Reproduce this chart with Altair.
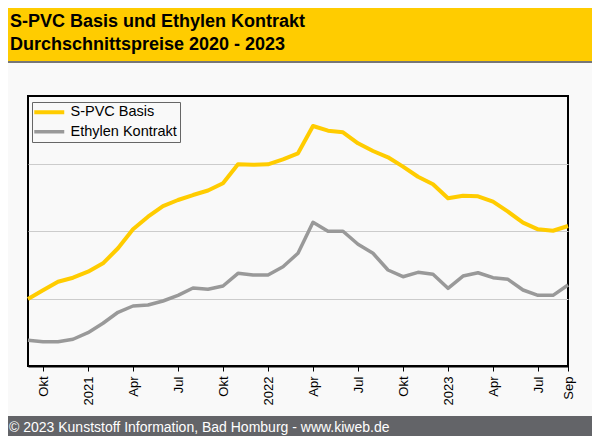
import altair as alt
import pandas as pd

# ---- data ----
months = [f"{y}-{m:02d}" for y in (2020, 2021, 2022, 2023) for m in range(1, 13)]
months = months[months.index("2020-09"): months.index("2023-09") + 1]

spvc = [99.3, 112.1, 124.9, 130.8, 139.7, 152.1, 174.4, 202.5, 221.2, 237.0,
        245.9, 253.3, 260.0, 270.7, 298.8, 298.2, 298.8, 306.2, 315.1, 355.6,
        348.6, 346.2, 329.9, 318.5, 309.2, 295.3, 280.4, 269.2, 248.4, 252.3,
        251.4, 243.4, 228.6, 212.3, 202.5, 200.4, 207.4]
ethylen = [38.1, 36.0, 36.0, 39.6, 49.3, 63.3, 79.6, 88.9, 90.4, 96.3,
           104.7, 115.6, 113.6, 118.5, 137.3, 134.8, 134.8, 147.1, 167.0, 212.9,
           199.6, 199.6, 180.3, 167.0, 142.2, 132.3, 138.8, 135.9, 115.1, 133.3,
           138.2, 130.8, 128.4, 112.6, 104.7, 104.7, 120.0]

series_names = ["S-PVC Basis", "Ethylen Kontrakt"]
series_colors = ["#FFCC00", "#999999"]

tick_months = ["2020-10", "2021-01", "2021-04", "2021-07", "2021-10", "2022-01",
               "2022-04", "2022-07", "2022-10", "2023-01", "2023-04", "2023-07", "2023-09"]
tick_labels = ["Okt", "2021", "Apr", "Jul", "Okt", "2022", "Apr", "Jul", "Okt",
               "2023", "Apr", "Jul", "Sep"]

title_lines = ["S-PVC Basis und Ethylen Kontrakt", "Durchschnittspreise 2020 - 2023"]
footer_text = "\u00a9 2023 Kunststoff Information, Bad Homburg - www.kiweb.de"

# ---- tables ----
rows = []
for name, vals in zip(series_names, [spvc, ethylen]):
    for i, v in enumerate(vals):
        rows.append({"m": i, "monat": months[i], "serie": name, "wert": v})
df = pd.DataFrame(rows)

tick_vals = [months.index(t) for t in tick_months]
label_expr = ("[" + ",".join(f"'{l}'" for l in tick_labels) + "][indexof(["
              + ",".join(str(v) for v in tick_vals) + "], datum.value)]")

FONT = "Liberation Sans"

lines = alt.Chart(df).mark_line(strokeJoin="round").encode(
    x=alt.X("m:Q", scale=alt.Scale(domain=[0, len(months) - 1], nice=False, zero=False),
            axis=alt.Axis(values=tick_vals, labelExpr=label_expr, title=None, grid=False,
                          labelAngle=270, labelFontSize=13, labelFont=FONT,
                          labelColor="black", tickColor="black", tickSize=5,
                          labelPadding=5, domainColor="black", domainWidth=2)),
    y=alt.Y("wert:Q", scale=alt.Scale(domain=[0, 400], nice=False),
            axis=alt.Axis(values=[100, 200, 300], labels=False, ticks=False,
                          domain=False, grid=True, gridColor="#cccccc", title=None)),
    color=alt.Color("serie:N", sort=series_names,
                    scale=alt.Scale(domain=series_names, range=series_colors),
                    legend=alt.Legend(title=None, orient="none", legendX=4, legendY=6,
                                      symbolType="M-3,0H3", symbolSize=100,
                                      symbolOffset=7, symbolStrokeWidth=4,
                                      labelOffset=14,
                                      labelFontSize=14.5, labelFont=FONT,
                                      labelColor="black", padding=3, rowPadding=2.5,
                                      strokeColor="#666666", fillColor="#f9f9f9")),
    strokeWidth=alt.StrokeWidth("serie:N", scale=alt.Scale(domain=series_names, range=[4, 3.5]),
                                legend=None),
)

one = pd.DataFrame({"a": [0]})
header = alt.Chart(one).mark_rect(color="#FFCC00").encode(
    x=alt.value(-20), x2=alt.value(564), y=alt.value(-88), y2=alt.value(-35))
header_line = alt.Chart(one).mark_rect(color="#777777").encode(
    x=alt.value(-20), x2=alt.value(564), y=alt.value(-35), y2=alt.value(-33))
footer = alt.Chart(one).mark_rect(color="#636468").encode(
    x=alt.value(-20), x2=alt.value(564), y=alt.value(320), y2=alt.value(340))

t1 = alt.Chart(one).mark_text(text=title_lines[0], font=FONT, fontSize=18, fontWeight="bold",
                              align="left", baseline="alphabetic", color="black").encode(
    x=alt.value(-18), y=alt.value(-68.7))
t2 = alt.Chart(one).mark_text(text=title_lines[1], font=FONT, fontSize=18, fontWeight="bold",
                              align="left", baseline="alphabetic", color="black").encode(
    x=alt.value(-18), y=alt.value(-46))
tf = alt.Chart(one).mark_text(text=footer_text, font=FONT, fontSize=14,
                              align="left", baseline="alphabetic", color="white").encode(
    x=alt.value(-19), y=alt.value(335.5))

chart = alt.layer(header, header_line, footer, t1, t2, tf, lines).properties(
    width=540, height=270,
    autosize=alt.AutoSizeParams(type="none"),
    padding={"left": 20, "top": 88, "right": 24, "bottom": 70},
    background="#f9f9f9",
).configure_view(stroke="black", strokeWidth=2, fill="#f9f9f9")

chart.save("out.html", embed_options={"renderer": "svg", "actions": False})
